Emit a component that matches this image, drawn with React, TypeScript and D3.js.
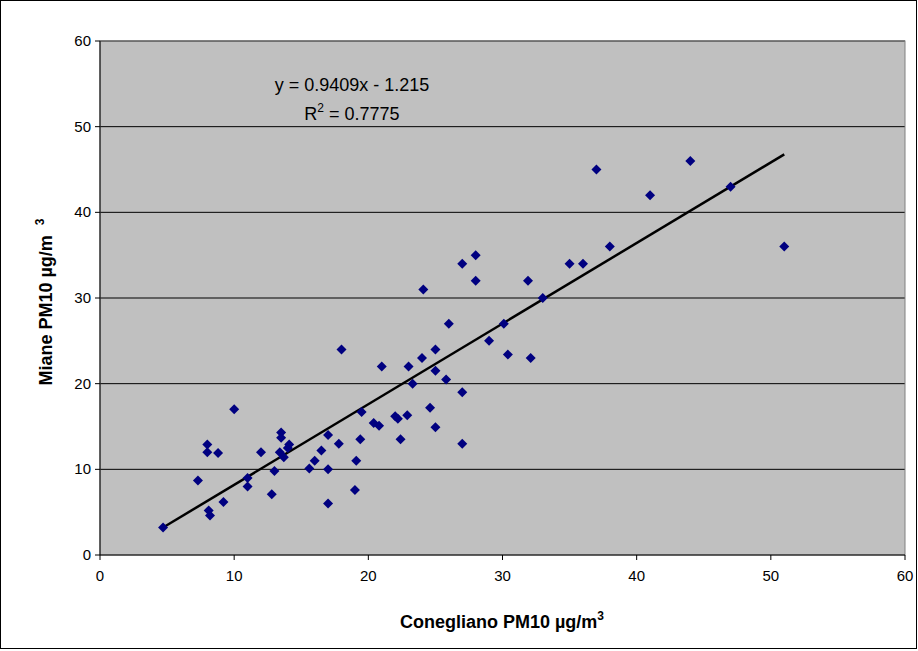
import * as d3 from "d3";

const conegliano = [4.7, 7.3, 8, 8, 8.1, 8.2, 8.8, 9.2, 10, 11, 11, 12, 12.8, 13, 13.4, 13.5, 13.5, 13.7, 14, 14.1, 15.6, 16, 16.5, 17, 17, 17, 17.8, 18, 19, 19.1, 19.4, 19.5, 20.4, 20.8, 21, 22, 22.2, 22.4, 22.9, 23, 23.3, 24, 24.1, 24.6, 25, 25, 25, 25.8, 26, 27, 27, 27, 28, 28, 29, 30.1, 30.4, 31.9, 32.1, 33, 35, 36, 37, 38, 41, 44, 47, 51];
const miane = [3.2, 8.7, 12.9, 12, 5.2, 4.6, 11.9, 6.2, 17, 9, 8, 12, 7.1, 9.8, 12, 13.7, 14.3, 11.4, 12.5, 12.9, 10.1, 11, 12.2, 14, 10, 6, 13, 24, 7.6, 11, 13.5, 16.7, 15.4, 15.1, 22, 16.2, 15.9, 13.5, 16.3, 22, 20, 23, 31, 17.2, 24, 21.5, 14.9, 20.5, 27, 34, 19, 13, 35, 32, 25, 27, 23.4, 32, 23, 30, 34, 34, 45, 36, 42, 46, 43, 36];
const ticks = [0, 10, 20, 30, 40, 50, 60];
const slope = 0.9409;
const intercept = -1.215;

export default function App() {
  const L = 100, R = 905, T = 41, B = 555;
  const x = d3.scaleLinear().domain([0, 60]).range([L, R]);
  const y = d3.scaleLinear().domain([0, 60]).range([B, T]);
  const x0 = d3.min(conegliano)!, x1 = d3.max(conegliano)!;
  const font = "Liberation Sans, Arial, sans-serif";
  return (
    <svg width={918} height={651} style={{ position: "absolute", left: 0, top: 0, background: "#fff" }} fontFamily={font}>
      <rect x={0.5} y={0.5} width={916} height={648} fill="#fff" stroke="#000" />
      <rect x={L} y={T} width={R - L} height={B - T} fill="#c0c0c0" />
      {ticks.slice(1).map((t) => (
        <line key={t} x1={L} x2={R} y1={y(t)} y2={y(t)} stroke="#000" strokeWidth={1} />
      ))}
      <rect x={L} y={T} width={R - L} height={B - T} fill="none" stroke="#808080" />
      <line x1={L} x2={L} y1={T} y2={B} stroke="#000" />
      <line x1={L} x2={R} y1={B} y2={B} stroke="#000" />
      {ticks.map((t) => (
        <g key={t}>
          <line x1={L - 5} x2={L} y1={y(t)} y2={y(t)} stroke="#000" />
          <text x={L - 9} y={y(t) + 5} textAnchor="end" fontSize={15}>{t}</text>
          <line x1={x(t)} x2={x(t)} y1={B} y2={B + 5} stroke="#000" />
          <text x={x(t)} y={B + 26} textAnchor="middle" fontSize={15}>{t}</text>
        </g>
      ))}
      <line x1={x(x0)} y1={y(slope * x0 + intercept)} x2={x(x1)} y2={y(slope * x1 + intercept)} stroke="#000" strokeWidth={2.5} />
      {conegliano.map((c, i) => {
        const cx = x(c), cy = y(miane[i]);
        return <path key={i} d={`M${cx},${cy - 5}L${cx + 5},${cy}L${cx},${cy + 5}L${cx - 5},${cy}Z`} fill="#000080" />;
      })}
      <text x={352} y={91} textAnchor="middle" fontSize={18}>y = 0.9409x - 1.215</text>
      <text x={352} y={120} textAnchor="middle" fontSize={18}>R<tspan dy={-8} fontSize={12}>2</tspan><tspan dy={8}> = 0.7775</tspan></text>
      <text x={502} y={628} textAnchor="middle" fontSize={18} fontWeight="bold">Conegliano PM10 µg/m<tspan dy={-8} fontSize={12}>3</tspan></text>
      <text transform="translate(52,302) rotate(-90)" textAnchor="middle" fontSize={18} fontWeight="bold">Miane PM10 µg/m<tspan dy={-8} dx={10} fontSize={12}>3</tspan></text>
    </svg>
  );
}
